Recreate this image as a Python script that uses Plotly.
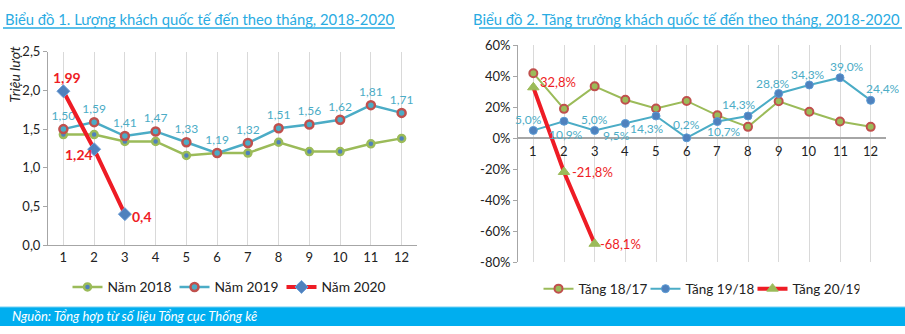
import plotly.graph_objects as go

months = list(range(1, 13))
month_labels = [str(m) for m in months]

# Chart 1: international arrivals (million)
y2018 = [1.43, 1.43, 1.34, 1.34, 1.16, 1.19, 1.19, 1.33, 1.21, 1.21, 1.31, 1.38]
y2019 = [1.50, 1.59, 1.41, 1.47, 1.33, 1.19, 1.32, 1.51, 1.56, 1.62, 1.81, 1.71]
y2020 = [1.99, 1.24, 0.40]
lab2019 = ["1,50", "1,59", "1,41", "1,47", "1,33", "1,19", "1,32", "1,51", "1,56", "1,62", "1,81", "1,71"]
lab2020 = ["1,99", "1,24", "0,4"]

# Chart 2: growth (%)
g1817 = [41.9, 18.9, 33.4, 24.8, 19.1, 24.0, 14.7, 7.3, 23.8, 17.0, 10.8, 7.3]
g1918 = [5.0, 10.9, 5.0, 9.5, 14.3, 0.2, 10.7, 14.3, 28.8, 34.3, 39.0, 24.4]
g2019 = [32.8, -21.8, -68.1]
lab1918 = ["5,0%", "10,9%", "5,0%", "9,5%", "14,3%", "0,2%", "10,7%", "14,3%", "28,8%", "34,3%", "39,0%", "24,4%"]
lab2019g = ["32,8%", "-21,8%", "-68,1%"]

y1_ticks = [0, 0.5, 1.0, 1.5, 2.0, 2.5]
y1_text = ["0,0", "0,5", "1,0", "1,5", "2,0", "2,5"]
y2_ticks = [-80, -60, -40, -20, 0, 20, 40, 60]
y2_text = ["-80%", "-60%", "-40%", "-20%", "0%", "20%", "40%", "60%"]

GREEN = "#9BBB59"
BLUE = "#4BACC6"
DBLUE = "#4F81BD"
RED = "#EE1C25"
MRED = "#C0504D"
FONT = "Lato"

W, H = 905, 334
fig = go.Figure()

# ---- Chart 1
fig.add_trace(go.Scatter(x=months, y=y2018, name="Năm 2018", mode="lines+markers",
                         line=dict(color=GREEN, width=2.5),
                         marker=dict(symbol="circle", size=7, color=DBLUE, line=dict(color=GREEN, width=2.5)),
                         xaxis="x", yaxis="y", legend="legend"))
fig.add_trace(go.Scatter(x=months, y=y2019, name="Năm 2019", mode="lines+markers+text",
                         line=dict(color=BLUE, width=2.5),
                         marker=dict(symbol="circle", size=8, color=BLUE, line=dict(color=MRED, width=2.5)),
                         text=lab2019, textposition="top center", cliponaxis=False,
                         textfont=dict(color=BLUE, size=12, family=FONT),
                         xaxis="x", yaxis="y", legend="legend"))
fig.add_trace(go.Scatter(x=months[:3], y=y2020, name="Năm 2020", mode="lines+markers",
                         line=dict(color=RED, width=4),
                         marker=dict(symbol="diamond", size=10, color=DBLUE, line=dict(color="#6FA0D8", width=1)),
                         cliponaxis=False,
                         xaxis="x", yaxis="y", legend="legend"))

# ---- Chart 2
fig.add_trace(go.Scatter(x=months, y=g1817, name="Tăng 18/17", mode="lines+markers",
                         line=dict(color=GREEN, width=2),
                         marker=dict(symbol="circle", size=8, color=GREEN, line=dict(color=MRED, width=2)),
                         cliponaxis=False,
                         xaxis="x2", yaxis="y2", legend="legend2"))
fig.add_trace(go.Scatter(x=months, y=g1918, name="Tăng 19/18", mode="lines+markers",
                         line=dict(color=BLUE, width=2),
                         marker=dict(symbol="circle", size=8, color=DBLUE, line=dict(color="#5B9BD5", width=1)),
                         cliponaxis=False,
                         xaxis="x2", yaxis="y2", legend="legend2"))
fig.add_trace(go.Scatter(x=months[:3], y=g2019, name="Tăng 20/19", mode="lines+markers",
                         line=dict(color=RED, width=4),
                         marker=dict(symbol="triangle-up", size=10, color=GREEN, line=dict(color=GREEN, width=1)),
                         cliponaxis=False,
                         xaxis="x2", yaxis="y2", legend="legend2"))

ax_common = dict(showline=True, linecolor="#A6A6A6", linewidth=1, zeroline=False,
                 tickfont=dict(family=FONT, size=13, color="#222"))

annots = []
# month labels chart 2 at the zero line
for m, t in zip(months, month_labels):
    annots.append(dict(x=m, y=0, xref="x2", yref="y2", text=t, showarrow=False,
                       yanchor="top", yshift=-3, font=dict(family=FONT, size=13, color="#222")))

# 2020 labels (chart 1)
shifts2020 = [(4, 14, "center"), (-15, -5, "center"), (5, -2, "left")]
for m, v, t, (dx, dy, xa) in zip(months, y2020, lab2020, shifts2020):
    annots.append(dict(x=m, y=v, xref="x", yref="y", text="<b>" + t + "</b>", showarrow=False,
                       xanchor=xa, yanchor="middle", xshift=dx, yshift=dy,
                       font=dict(family=FONT, size=14, color=RED)))

# 19/18 labels (chart 2)
shifts1918 = [(-5, 11), (2, -13), (0, 11), (-9, -12), (-9, -13), (0, 13),
              (7, -10), (-9, 11), (-6, 10), (-1, 10), (7, 11), (12, 12)]
for m, v, t, (dx, dy) in zip(months, g1918, lab1918, shifts1918):
    annots.append(dict(x=m, y=v, xref="x2", yref="y2", text=t, showarrow=False,
                       xanchor="center", yanchor="middle", xshift=dx, yshift=dy,
                       font=dict(family=FONT, size=12, color=BLUE)))

# 20/19 labels (chart 2)
shifts2019 = [(5, 5), (6, 0), (3, 0)]
for m, v, t, (dx, dy) in zip(months, g2019, lab2019g, shifts2019):
    annots.append(dict(x=m, y=v, xref="x2", yref="y2", text=t, showarrow=False,
                       xanchor="left", yanchor="middle", xshift=dx, yshift=dy,
                       font=dict(family=FONT, size=13, color=RED)))

annots.append(dict(x=15 / W, y=1 - 70 / H, xref="paper", yref="paper", text="<i>Triệu lượt</i>",
                   textangle=-90, showarrow=False, xanchor="center", yanchor="middle",
                   font=dict(family=FONT, size=14, color="#222")))
annots.append(dict(x=3 / W, y=1 - 12 / H, xref="paper", yref="paper",
                   text="Biểu đồ 1. Lượng khách quốc tế đến theo tháng, 2018-2020",
                   showarrow=False, xanchor="left", yanchor="middle",
                   font=dict(family=FONT, size=14.8, color="#29ABE2")))
annots.append(dict(x=902 / W, y=1 - 12 / H, xref="paper", yref="paper",
                   text="Biểu đồ 2. Tăng trưởng khách quốc tế đến theo tháng, 2018-2020",
                   showarrow=False, xanchor="right", yanchor="middle",
                   font=dict(family=FONT, size=14.8, color="#29ABE2")))
annots.append(dict(x=10 / W, y=1 - 324 / H, xref="paper", yref="paper",
                   text="<i>Nguồn: Tổng hợp từ số liệu Tổng cục Thống kê</i>",
                   showarrow=False, xanchor="left", yanchor="middle",
                   font=dict(family=FONT, size=13, color="white")))

shapes = [
    dict(type="line", xref="paper", yref="paper", x0=3 / W, x1=395 / W, y0=1 - 21 / H, y1=1 - 21 / H,
         line=dict(color="#29ABE2", width=1.5)),
    dict(type="line", xref="paper", yref="paper", x0=479 / W, x1=902 / W, y0=1 - 21 / H, y1=1 - 21 / H,
         line=dict(color="#29ABE2", width=1.5)),
    dict(type="rect", xref="paper", yref="paper", x0=0, x1=1, y0=0, y1=1 - 314 / H,
         fillcolor="#00AEEF", line=dict(width=0), layer="below"),
    dict(type="line", xref="paper", yref="paper", x0=0, x1=1, y0=1 - 314 / H, y1=1 - 314 / H,
         line=dict(color="#7FD3F5", width=1)),
]

fig.update_layout(
    width=W, height=H, margin=dict(l=0, r=0, t=0, b=0),
    paper_bgcolor="white", plot_bgcolor="white",
    font=dict(family=FONT, size=13, color="#222"),
    xaxis=dict(domain=[48 / W, 417 / W], range=[0.5, 12.5], tickvals=months, ticktext=month_labels,
               showgrid=True, gridcolor="#D9D9D9", ticks="", anchor="y", **ax_common),
    yaxis=dict(domain=[1 - 249 / H, 1 - 46 / H], range=[0, 2.5], tickvals=y1_ticks, ticktext=y1_text,
               showgrid=False, ticks="outside", ticklen=4, tickcolor="#A6A6A6", anchor="x", **ax_common),
    xaxis2=dict(domain=[518 / W, 886 / W], range=[0.5, 12.5], tickvals=months, showticklabels=False,
                showgrid=True, gridcolor="#D9D9D9", showline=False, zeroline=False, anchor="y2"),
    yaxis2=dict(domain=[1 - 267 / H, 1 - 39 / H], range=[-80, 60], tickvals=y2_ticks, ticktext=y2_text,
                showgrid=False, ticks="outside", ticklen=4, tickcolor="#A6A6A6", anchor="x2",
                showline=True, linecolor="#A6A6A6", linewidth=1,
                zeroline=True, zerolinecolor="#A6A6A6", zerolinewidth=1.5,
                tickfont=dict(family=FONT, size=13, color="#222")),
    legend=dict(orientation="h", x=228 / W, y=1 - 293 / H, xanchor="center", yanchor="middle",
                itemwidth=30, entrywidth=62,
                font=dict(family=FONT, size=13.8, color="#222"), bgcolor="rgba(0,0,0,0)"),
    legend2=dict(orientation="h", x=699 / W, y=1 - 295 / H, xanchor="center", yanchor="middle",
                 itemwidth=30, entrywidth=62,
                 font=dict(family=FONT, size=13.5, color="#222"), bgcolor="rgba(0,0,0,0)"),
    annotations=annots, shapes=shapes, showlegend=True,
)

fig.write_html("out.html")
